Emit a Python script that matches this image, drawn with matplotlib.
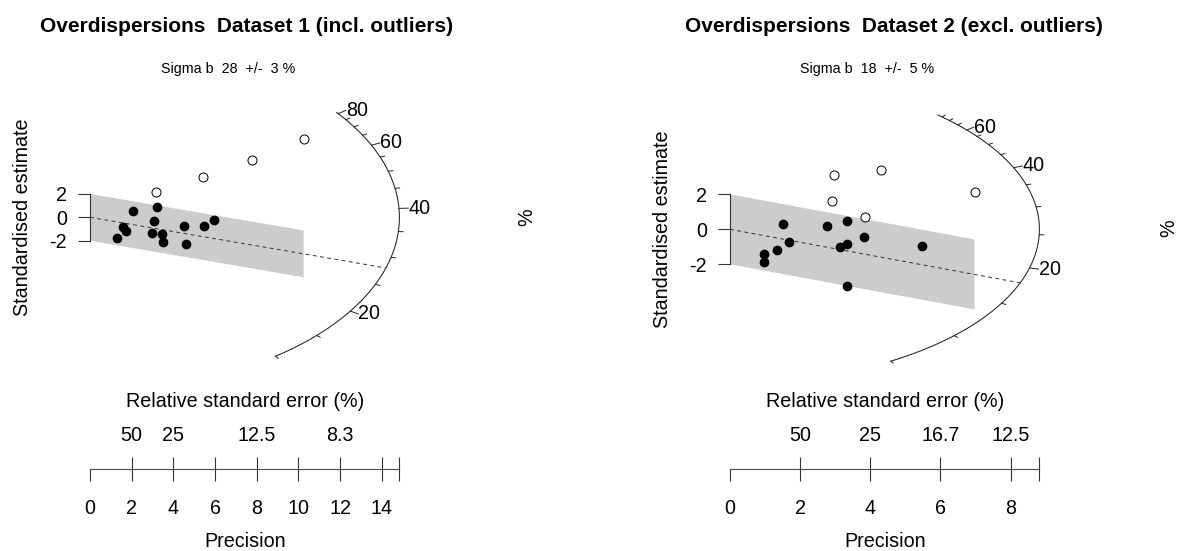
import numpy as np
import matplotlib
matplotlib.use('Agg')
import matplotlib.pyplot as plt
import matplotlib.transforms as mtrans

plt.rcParams['font.family'] = ['Liberation Sans', 'DejaVu Sans']

# Dataset 1 (incl. outliers): precision and standardised estimate
prec_1_in = [1.28, 1.56, 1.73, 2.05, 3.23, 3.05, 2.97, 3.43, 3.48, 4.52, 4.59, 5.47, 5.96]
est_1_in = [-1.79, -0.85, -1.14, 0.54, 0.91, -0.29, -1.37, -1.45, -2.08, -0.74, -2.31, -0.74, -0.26]
prec_1_out = [3.17, 5.42, 7.77, 10.25]
est_1_out = [2.19, 3.47, 4.87, 6.67]

# Dataset 2 (excl. outliers)
prec_2_in = [0.98, 0.98, 1.35, 1.52, 1.69, 2.77, 3.14, 3.33, 3.33, 3.33, 3.82, 5.47]
est_2_in = [-1.43, -1.89, -1.20, 0.29, -0.74, 0.21, -0.99, -0.86, 0.47, -3.22, -0.44, -0.94]
prec_2_out = [2.97, 2.92, 4.30, 3.86, 6.97]
est_2_out = [3.09, 1.60, 3.37, 0.70, 2.11]

# radial scale: reference value, central slope, radius, arc range
ref_1, slope_1, rad_1, arc_1 = 38.0, -0.305, 14.84, (10, 81)
ref_2, slope_2, rad_2, arc_2 = 25.9, -0.370, 8.82, (5, 78)
z_major_1 = [20, 40, 60, 80]
z_major_2 = [20, 40, 60]

# precision axis and relative standard error axis
prec_ticks_1 = [0, 2, 4, 6, 8, 10, 12, 14]
prec_ticks_2 = [0, 2, 4, 6, 8]
rse_ticks_1 = [2, 4, 6, 8, 10, 12, 14]
rse_labels_1 = ['50', '25', '', '12.5', '', '8.3', '']
rse_ticks_2 = [2, 4, 6, 8]
rse_labels_2 = ['50', '25', '16.7', '12.5']

titles = ['Overdispersions  Dataset 1 (incl. outliers)', 'Overdispersions  Dataset 2 (excl. outliers)']
subtitles = ['Sigma b  28  +/-  3 %', 'Sigma b  18  +/-  5 %']

W, H = 1179, 551
FS = 14.2
fig = plt.figure(figsize=(W / 100, H / 100), dpi=100)


def arc_xy(v, ref, rad, k=1.0):
    th = np.arctan(np.log(np.asarray(v, dtype=float) / ref))
    return k * rad * np.cos(th), k * rad * np.sin(th)


def panel(x0px, y0px, yscale, pin, ein, pout, eout, ref, slope, rad, arc, zmaj,
          pticks, rticks, rlabels, title, tx, subtitle, sx, pct_xy):
    # main radial plot
    top, bot = 95, 370
    ax = fig.add_axes([x0px / W, 1 - bot / H, 309.4 / W, (bot - top) / H])
    ax.set_xlim(0, rad)
    ax.set_ylim((y0px - bot) / yscale, (y0px - top) / yscale)
    for s in ['top', 'right', 'bottom']:
        ax.spines[s].set_visible(False)
    ax.spines['left'].set_bounds(-2, 2)
    ax.spines['left'].set_color('#333333')
    ax.spines['left'].set_linewidth(0.8)
    ax.set_xticks([])
    ax.set_yticks([-2, 0, 2], ['-2', '0', '2'])
    ax.tick_params(axis='y', length=8.6, width=0.8, color='#333333', pad=8, labelsize=FS)
    ax.set_ylabel('Standardised estimate', fontsize=FS)
    ax.yaxis.set_label_coords(-0.186, 0, transform=mtrans.blended_transform_factory(ax.transAxes, ax.transData))

    pmax = max(max(pin), max(pout))
    ax.fill([0, 0, pmax, pmax], [-2, 2, slope * pmax + 2, slope * pmax - 2],
            color='#cccccc', lw=0, zorder=1)
    th = np.arctan(slope)
    ax.plot([0, rad * np.cos(th)], [0, rad * np.sin(th)], color='#333333',
            lw=0.7, ls=(0, (4, 3.5)), clip_on=False, zorder=2)

    vv = np.linspace(arc[0], arc[1], 300)
    xa, ya = arc_xy(vv, ref, rad)
    ax.plot(xa, ya, color='#222222', lw=0.75, clip_on=False, zorder=2)
    for v in range(5, 81, 5):
        if v < arc[0] or v > arc[1]:
            continue
        k = 1.03 if v in zmaj else 1.015
        x1, y1 = arc_xy(v, ref, rad)
        x2, y2 = arc_xy(v, ref, rad, k)
        ax.plot([x1, x2], [y1, y2], color='#222222', lw=0.7, clip_on=False)
    for v in zmaj:
        xl, yl = arc_xy(v, ref, rad, 1.03)
        ax.text(xl, yl, str(v), fontsize=FS, ha='left', va='center')

    ax.plot(pin, ein, 'o', color='black', ms=6, clip_on=False, zorder=3)
    ax.plot(pout, eout, 'o', mfc='white', mec='black', mew=0.7, ms=6.5, clip_on=False, zorder=3)

    # precision axis with relative standard error on top
    ly = 469.3
    axb = fig.add_axes([x0px / W, 1 - ly / H, 309.4 / W, 1e-4])
    axb.set_xlim(0, rad)
    for s in ['top', 'left', 'right']:
        axb.spines[s].set_visible(False)
    axb.spines['bottom'].set_color('#555555')
    axb.spines['bottom'].set_linewidth(0.8)
    axb.set_yticks([])
    axb.set_xticks(pticks + [rad], [str(p) for p in pticks] + [''])
    axb.tick_params(axis='x', direction='out', length=8.6, width=0.8, color='#333333',
                    pad=12.5, labelsize=FS)
    axb.set_xlabel('Precision', fontsize=FS, labelpad=10.5)
    sec = axb.secondary_xaxis('top')
    sec.spines['top'].set_color('#555555')
    sec.spines['top'].set_linewidth(0.8)
    sec.set_xticks(rticks + [rad], rlabels + [''])
    sec.tick_params(axis='x', direction='out', length=8.6, width=0.8, color='#333333',
                    pad=8.5, labelsize=FS)
    sec.set_xlabel('Relative standard error (%)', fontsize=FS, labelpad=14)

    fig.text(tx / W, 1 - 27 / H, title, fontsize=15, fontweight='bold', ha='center', va='center')
    fig.text(sx / W, 1 - 69 / H, subtitle, fontsize=10.3, ha='center', va='center')
    fig.text(pct_xy[0] / W, 1 - pct_xy[1] / H, '%', fontsize=FS, rotation=90,
             ha='center', va='center')


panel(90, 217.3, 11.7, prec_1_in, est_1_in, prec_1_out, est_1_out, ref_1, slope_1, rad_1,
      arc_1, z_major_1, prec_ticks_1, rse_ticks_1, rse_labels_1, titles[0], 247,
      subtitles[0], 228, (526.7, 216.7))
panel(730, 229.3, 17.5, prec_2_in, est_2_in, prec_2_out, est_2_out, ref_2, slope_2, rad_2,
      arc_2, z_major_2, prec_ticks_2, rse_ticks_2, rse_labels_2, titles[1], 894,
      subtitles[1], 867, (1168.3, 228.3))

fig.savefig('out.png', dpi=100)
